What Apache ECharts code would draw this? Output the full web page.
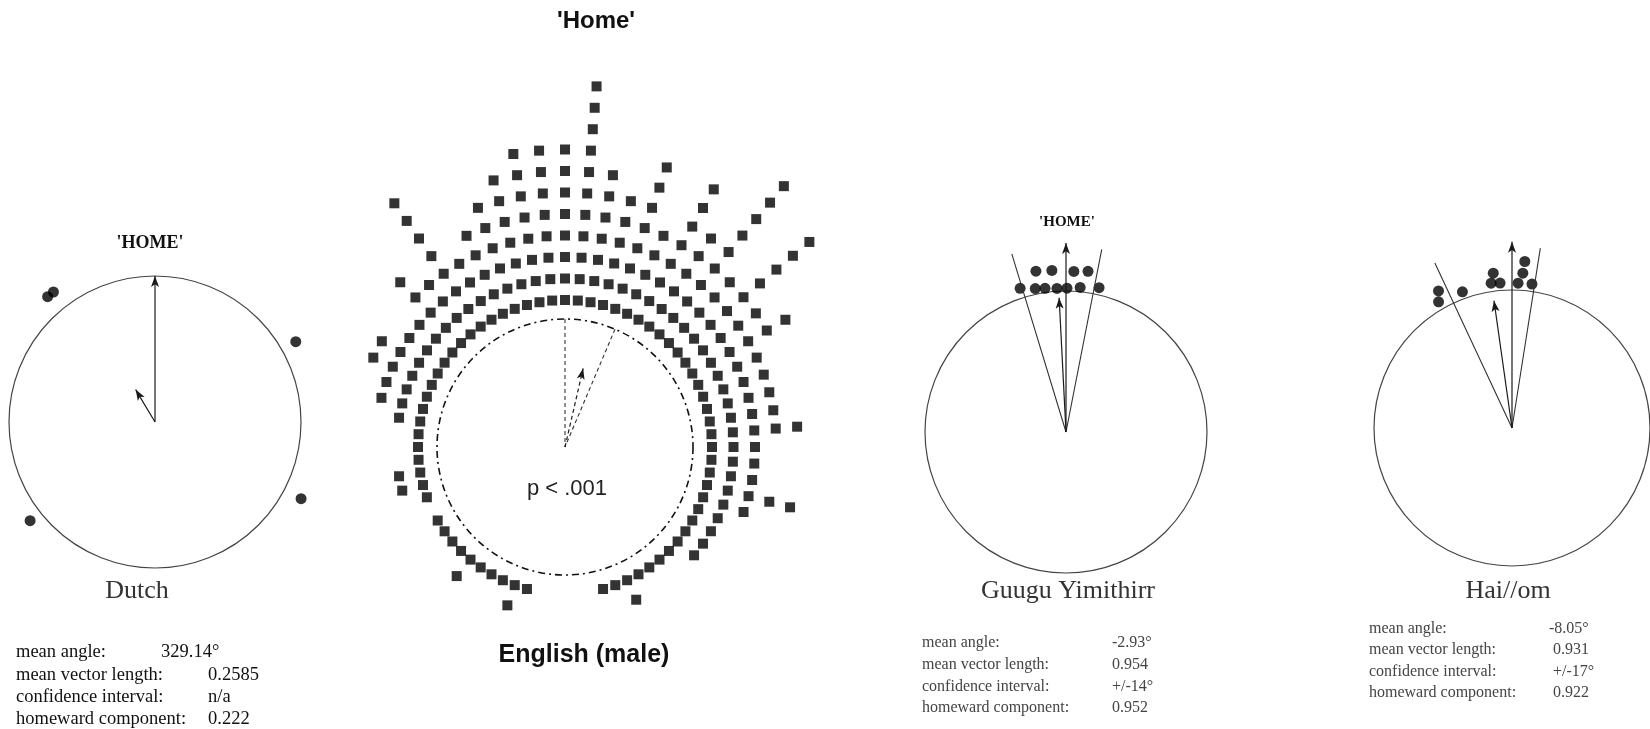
<!DOCTYPE html>
<html><head><meta charset="utf-8">
<script src="https://cdn.jsdelivr.net/npm/echarts@6/dist/echarts.min.js"></script>
<style>html,body{margin:0;padding:0;background:#fff}#c{width:1650px;height:729px}</style>
</head><body><div id="c"></div>
<script>
// ---------- data ----------
const statLabels = ['mean angle:', 'mean vector length:', 'confidence interval:', 'homeward component:'];
const panelNames = ['Dutch', 'English (male)', 'Guugu Yimithirr', 'Hai//om'];

// Dutch: individual responses (compass degrees, plotted radius in circle units)
const dutchAngles = [319.4, 322.0, 60.3, 117.7, 231.7];
const dutchRadii = [1.13, 1.13, 1.11, 1.13, 1.09];
const dutchMean = [329.14, 0.2585];           // angle, vector length
const dutchValues = ['329.14°', '0.2585', 'n/a', '0.222'];

// English (male): dot counts per 5° bin, starting at 0° (north), clockwise
const englishBinWidth = 5;
const englishCounts = [
  8, 11, 7, 6, 8, 5, 8, 6, 10, 5, 9, 5,
  6, 4, 4, 4, 4, 5, 3, 3, 3, 5, 3, 2,
  2, 2, 2, 1, 1, 1, 1, 2, 1, 1, 0, 0,
  0, 0, 0, 1, 2, 1, 1, 1, 2, 1, 1, 1,
  1, 0, 1, 2, 2, 1, 1, 1, 2, 3, 3, 4,
  4, 3, 3, 5, 4, 8, 4, 5, 6, 7, 8, 8
];
const englishMean = [13, 0.63];
const englishCI = [0, 23];
const englishP = 'p < .001';

// Guugu Yimithirr
const guuguAngles = [-17.7, -12.1, -8.3, -3.6, 0.4, 5.6, 12.9, -10.6, -5.0, 2.8, 7.8];
const guuguRadii = [1.07, 1.04, 1.03, 1.02, 1.02, 1.03, 1.05, 1.16, 1.15, 1.14, 1.15];
const guuguMean = [-2.93, 0.954];
const guuguCI = 14;
const guuguValues = ['-2.93°', '0.954', '+/-14°', '0.952'];

// Hai//om
const haiomAngles = [-28.2, -30.2, -20.0, -6.9, -8.2, -4.7, 4.4, 4.0, 2.4, 7.9];
const haiomRadii = [1.127, 1.058, 1.05, 1.13, 1.06, 1.054, 1.21, 1.125, 1.05, 1.053];
const haiomMean = [-8.05, 0.931];
const haiomCI = 17;
const haiomValues = ['-8.05°', '0.931', '+/-17°', '0.922'];

// ---------- layout / style ----------
const norm = a => ((a % 360) + 360) % 360;
const INK = '#1a1a1a';
const EXT = 1.5;   // data polar extends beyond the unit circle
const circles = [
  {center: [155, 422], radius: 146},
  {center: [565, 447], radius: 128},
  {center: [1066, 432], radius: 141},
  {center: [1512, 428], radius: 138}
];
// polar 0-3: drawn circles; polar 4-7: same centres, larger extent, used by the series
const polars = circles.concat(circles.map(c => ({center: c.center, radius: c.radius * EXT})));
const angleAxis = polars.map((p, i) => ({
  polarIndex: i, type: 'value', min: 0, max: 360, startAngle: 90, clockwise: true,
  axisLine: {show: i < 4, lineStyle: {color: i === 1 ? '#111' : '#444', width: i === 1 ? 1.6 : 1.2,
    type: i === 1 ? [7, 4, 2, 4] : 'solid'}},
  axisTick: {show: false}, axisLabel: {show: false}, splitLine: {show: false}
}));
const radiusAxis = polars.map((p, i) => ({
  polarIndex: i, type: 'value', min: 0, max: i < 4 ? 1 : EXT,
  axisLine: {show: false}, axisTick: {show: false}, axisLabel: {show: false}, splitLine: {show: false}
}));
const P = i => i + 4;

function arrowSeries(pi, angle, len, dashed) {
  const a = norm(angle);
  return {
    type: 'line', coordinateSystem: 'polar', polarIndex: P(pi), clip: false, silent: true,
    data: [[0, a], [len, a]],
    showSymbol: true,
    symbol: (v, p) => p.dataIndex === 1 ? 'arrow' : 'none',
    symbolSize: [6, 11], symbolRotate: -a,
    lineStyle: {color: INK, width: 1.2, type: dashed ? [4, 3] : 'solid'},
    itemStyle: {color: INK}
  };
}
function wedgeSeries(pi, a1, a2, len, dashed) {
  return {
    type: 'line', coordinateSystem: 'polar', polarIndex: P(pi), clip: false, silent: true,
    data: [[len, norm(a1)], [0, 0], [len, norm(a2)]], showSymbol: false, symbol: 'none',
    lineStyle: {color: '#333', width: 1.1, type: dashed ? [4, 3] : 'solid'}
  };
}
function dotSeries(pi, angles, radii, size) {
  return {
    type: 'scatter', coordinateSystem: 'polar', polarIndex: P(pi), clip: false, silent: true,
    data: angles.map((a, i) => [radii[i], norm(a)]),
    symbol: 'circle', symbolSize: size, itemStyle: {color: '#000'}
  };
}

// English dot stacks
const ringStart = 147 / 128, ringStep = 21.5 / 128;
const englishDots = [];
englishCounts.forEach((c, i) => {
  for (let k = 0; k < c; k++) englishDots.push([ringStart + k * ringStep, i * englishBinWidth]);
});

const series = [
  dotSeries(0, dutchAngles, dutchRadii, 11),
  arrowSeries(0, 0, 1, false),
  arrowSeries(0, dutchMean[0], dutchMean[1], false),
  {type: 'scatter', coordinateSystem: 'polar', polarIndex: P(1), clip: false, silent: true,
   data: englishDots, symbol: 'rect', symbolSize: 10, itemStyle: {color: '#000'}},
  wedgeSeries(1, englishCI[0], englishCI[1], 1, true),
  arrowSeries(1, englishMean[0], englishMean[1], true),
  dotSeries(2, guuguAngles, guuguRadii, 11),
  wedgeSeries(2, guuguMean[0] - guuguCI, guuguMean[0] + guuguCI, 1.32, false),
  arrowSeries(2, 0, 1.34, false),
  arrowSeries(2, guuguMean[0], guuguMean[1], false),
  dotSeries(3, haiomAngles, haiomRadii, 11),
  wedgeSeries(3, haiomMean[0] - haiomCI, haiomMean[0] + haiomCI, 1.32, false),
  arrowSeries(3, 0, 1.35, false),
  arrowSeries(3, haiomMean[0], haiomMean[1], false)
];

// ---------- texts ----------
const SERIF = '"Liberation Serif","Times New Roman",serif';
const SANS = '"Liberation Sans",Arial,sans-serif';
function txt(x, y, s, font, fill, align) {
  return {type: 'text', x: x, y: y, silent: true,
    style: {text: s, font: font, fill: fill || '#222', textAlign: align || 'center', textVerticalAlign: 'middle'}};
}
const graphics = [
  txt(150, 243, "'HOME'", 'bold 18px ' + SERIF, '#111'),
  txt(596, 21, "'Home'", 'bold 24px ' + SANS, '#111'),
  txt(567, 489, englishP, '22px ' + SANS, '#222'),
  txt(584, 655, panelNames[1], 'bold 25px ' + SANS, '#111'),
  txt(1067, 222, "'HOME'", 'bold 15px ' + SERIF, '#111'),
  txt(137, 591, panelNames[0], '26px ' + SERIF, '#333'),
  txt(1068, 591, panelNames[2], '26px ' + SERIF, '#333'),
  txt(1508, 591, panelNames[3], '26px ' + SERIF, '#333')
];
const dutchY = [652, 675, 697, 719];
const guuguY = [643, 665, 687, 708];
const haiomY = [629, 650, 672, 693];
statLabels.forEach((l, i) => {
  graphics.push(txt(16, dutchY[i], l, '18.5px ' + SERIF, '#111', 'left'));
  graphics.push(txt(i === 0 ? 161 : 208, dutchY[i], dutchValues[i], '18.5px ' + SERIF, '#111', 'left'));
  graphics.push(txt(922, guuguY[i], l, '16px ' + SERIF, '#444', 'left'));
  graphics.push(txt(1112, guuguY[i], guuguValues[i], '16px ' + SERIF, '#444', 'left'));
  graphics.push(txt(1369, haiomY[i], l, '16px ' + SERIF, '#444', 'left'));
  graphics.push(txt(i === 0 ? 1549 : 1553, haiomY[i], haiomValues[i], '16px ' + SERIF, '#444', 'left'));
});

const chart = echarts.init(document.getElementById('c'), null, {renderer: 'canvas'});
chart.setOption({
  animation: false,
  backgroundColor: '#fff',
  polar: polars,
  angleAxis: angleAxis,
  radiusAxis: radiusAxis,
  series: series,
  graphic: graphics
});
</script></body></html>
